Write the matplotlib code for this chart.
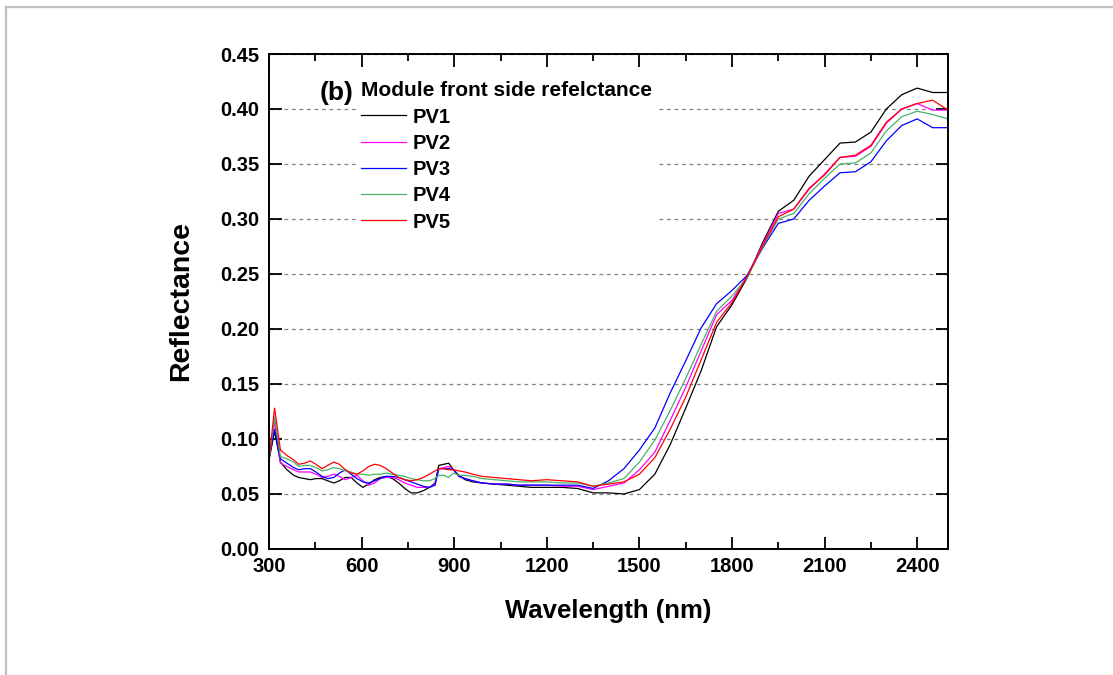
import matplotlib
matplotlib.use("Agg")
import matplotlib.pyplot as plt
from matplotlib.lines import Line2D
from matplotlib.ticker import MultipleLocator

# Wavelength grid (nm)
wavelength = [300, 318, 337, 358, 380, 396, 415, 434, 452, 472, 490, 510, 528, 547,
              566, 585, 604, 623, 642, 660, 680, 700, 720, 740, 760, 780, 800, 820,
              838, 850, 866, 882, 898, 915, 935, 960, 990, 1030, 1070, 1110, 1150,
              1200, 1250, 1300, 1350, 1400, 1450, 1500, 1550, 1600, 1650, 1700, 1750,
              1800, 1850, 1900, 1950, 2000, 2050, 2100, 2150, 2200, 2250, 2300, 2350,
              2400, 2450, 2500]

pv1 = [0.081, 0.107, 0.079, 0.072, 0.067, 0.065, 0.064, 0.063, 0.064, 0.064, 0.062, 0.060,
       0.062, 0.065, 0.065, 0.060, 0.056, 0.059, 0.063, 0.065, 0.066, 0.064, 0.060, 0.055,
       0.051, 0.051, 0.053, 0.056, 0.060, 0.076, 0.077, 0.078, 0.072, 0.067, 0.063, 0.061,
       0.060, 0.059, 0.058, 0.057, 0.056, 0.056, 0.056, 0.055, 0.051, 0.051, 0.050, 0.054,
       0.068, 0.095, 0.128, 0.162, 0.202, 0.222, 0.247, 0.279, 0.307, 0.317, 0.339, 0.354,
       0.369, 0.370, 0.379, 0.400, 0.413, 0.419, 0.415, 0.415]

pv2 = [0.081, 0.116, 0.078, 0.075, 0.072, 0.070, 0.070, 0.070, 0.068, 0.065, 0.066, 0.068,
       0.066, 0.063, 0.065, 0.067, 0.062, 0.058, 0.060, 0.064, 0.065, 0.065, 0.063, 0.060,
       0.058, 0.056, 0.056, 0.056, 0.059, 0.073, 0.074, 0.075, 0.072, 0.066, 0.064, 0.062,
       0.060, 0.059, 0.059, 0.058, 0.058, 0.058, 0.057, 0.057, 0.054, 0.057, 0.060, 0.072,
       0.088, 0.117, 0.147, 0.180, 0.213, 0.226, 0.249, 0.277, 0.305, 0.309, 0.327, 0.341,
       0.356, 0.357, 0.366, 0.387, 0.400, 0.405, 0.399, 0.399]

pv3 = [0.082, 0.109, 0.082, 0.078, 0.074, 0.072, 0.073, 0.073, 0.070, 0.066, 0.064, 0.065,
       0.069, 0.072, 0.068, 0.064, 0.061, 0.060, 0.062, 0.064, 0.066, 0.066, 0.065, 0.063,
       0.061, 0.059, 0.057, 0.056, 0.058, 0.073, 0.073, 0.073, 0.072, 0.066, 0.064, 0.062,
       0.060, 0.059, 0.059, 0.058, 0.058, 0.058, 0.058, 0.058, 0.055, 0.062, 0.073, 0.090,
       0.110, 0.142, 0.171, 0.201, 0.223, 0.235, 0.249, 0.274, 0.296, 0.300, 0.317, 0.330,
       0.342, 0.343, 0.352, 0.371, 0.385, 0.391, 0.383, 0.383]

pv4 = [0.081, 0.120, 0.084, 0.082, 0.079, 0.075, 0.076, 0.076, 0.074, 0.071, 0.072, 0.074,
       0.073, 0.071, 0.070, 0.068, 0.068, 0.067, 0.068, 0.068, 0.069, 0.068, 0.067, 0.066,
       0.064, 0.063, 0.062, 0.062, 0.064, 0.067, 0.067, 0.065, 0.069, 0.067, 0.067, 0.066,
       0.064, 0.063, 0.062, 0.061, 0.061, 0.061, 0.060, 0.060, 0.057, 0.060, 0.064, 0.079,
       0.099, 0.126, 0.155, 0.186, 0.216, 0.230, 0.247, 0.275, 0.300, 0.305, 0.323, 0.337,
       0.350, 0.351, 0.360, 0.380, 0.393, 0.398, 0.395, 0.391]

pv5 = [0.081, 0.128, 0.090, 0.085, 0.081, 0.077, 0.078, 0.080, 0.077, 0.073, 0.076, 0.079,
       0.077, 0.072, 0.069, 0.068, 0.071, 0.075, 0.077, 0.076, 0.073, 0.069, 0.065, 0.063,
       0.062, 0.063, 0.065, 0.068, 0.071, 0.073, 0.073, 0.072, 0.072, 0.071, 0.070, 0.068,
       0.066, 0.065, 0.064, 0.063, 0.062, 0.063, 0.062, 0.061, 0.057, 0.059, 0.061, 0.068,
       0.083, 0.109, 0.138, 0.172, 0.206, 0.224, 0.248, 0.276, 0.302, 0.309, 0.328, 0.340,
       0.356, 0.358, 0.367, 0.388, 0.400, 0.405, 0.408, 0.399]

labels = ["PV1", "PV2", "PV3", "PV4", "PV5"]
colors = ["black", "#ff00ff", "#0000ff", "#45b468", "#ff0000"]
series = [pv1, pv2, pv3, pv4, pv5]

plt.rcParams["font.family"] = ["Liberation Sans", "DejaVu Sans"]
plt.rcParams["font.weight"] = "bold"

fig = plt.figure(figsize=(11.13, 6.75), dpi=100)
ax = fig.add_axes([0.2417, 0.1867, 0.6101, 0.7333])

# Curves
for y, lab, c in zip(series, labels, colors):
    ax.plot(wavelength, y, color=c, lw=0.9, label=lab)

# Axes details
ax.set_xlim(300, 2500)
ax.set_ylim(0, 0.45)
ax.xaxis.set_major_locator(MultipleLocator(300))
ax.xaxis.set_minor_locator(MultipleLocator(150))
ax.yaxis.set_major_locator(MultipleLocator(0.05))
ax.yaxis.set_major_formatter(plt.FormatStrFormatter("%.2f"))
ax.tick_params(which="both", direction="in", top=True, right=True, width=1.3)
ax.tick_params(which="major", length=9, labelsize=14.5, pad=7)
ax.tick_params(which="minor", length=5)
ax.tick_params(axis="x", pad=6)
for s in ax.spines.values():
    s.set_linewidth(1.4)
ax.yaxis.grid(True, linestyle=(0, (3, 3)), color="#808080", lw=0.9)
ax.set_axisbelow(True)

ax.set_xlabel("Wavelength (nm)", fontsize=18.5, fontweight="bold", labelpad=16)
ax.set_ylabel("Reflectance", fontsize=20.5, fontweight="bold", labelpad=19)

# Legend
leg = ax.legend(loc="upper left", bbox_to_anchor=(0.13, 0.953), frameon=True,
                facecolor="white", edgecolor="none", framealpha=1, fancybox=False,
                title="Module front side refelctance", alignment="left",
                fontsize=14.5, handlelength=2.2, handletextpad=0.35, labelspacing=0.36,
                borderpad=0.2, borderaxespad=0)
leg.get_title().set_fontsize(15)
leg.get_title().set_fontweight("bold")
ax.text(0.074, 0.922, "(b)", transform=ax.transAxes, fontsize=19,
        fontweight="bold", ha="left", va="center")

# Outer frame lines (top and left)
fig.add_artist(Line2D([6 / 1113, 1112 / 1113], [1 - 7 / 675, 1 - 7 / 675],
                      color="#c0c0c0", lw=1.6, transform=fig.transFigure))
fig.add_artist(Line2D([6 / 1113, 6 / 1113], [0, 1 - 7 / 675],
                      color="#c0c0c0", lw=1.6, transform=fig.transFigure))

fig.savefig("out.png", dpi=100)
